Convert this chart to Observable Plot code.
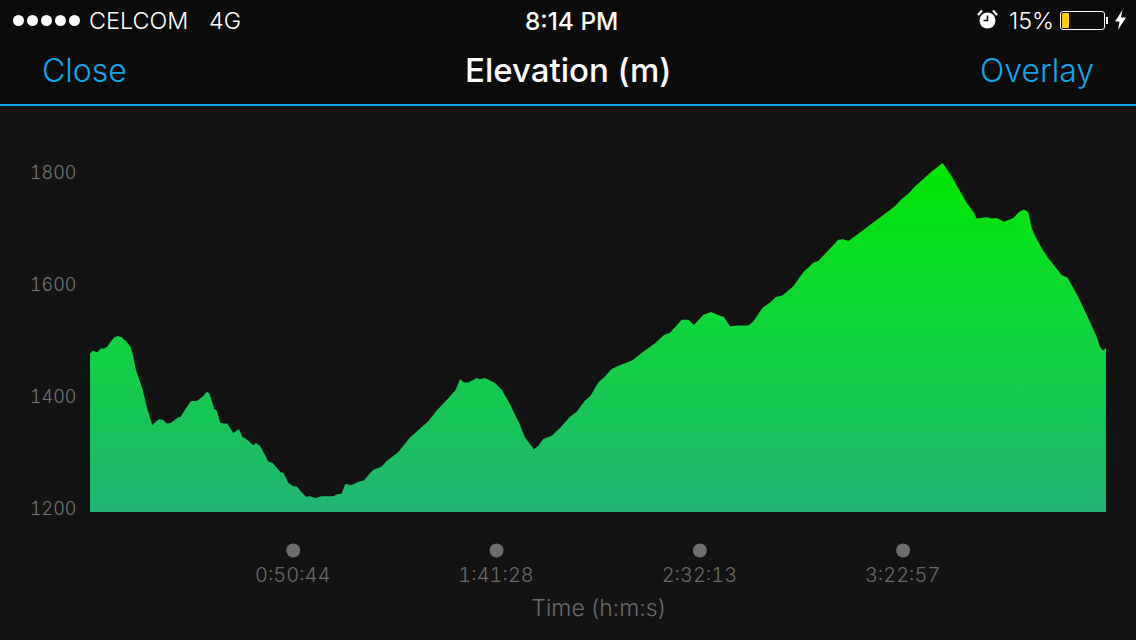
<!DOCTYPE html>
<html>
<head>
<meta charset="utf-8">
<script src="https://cdn.jsdelivr.net/npm/d3@7"></script>
<script src="https://cdn.jsdelivr.net/npm/@observablehq/plot@0.6"></script>
<style>
html,body{margin:0;padding:0;background:#131313;width:1136px;height:640px;overflow:hidden;font-family:Inter,Roboto,sans-serif}
#head{position:relative;width:1136px;height:106px;background:#0c0c0c;border-bottom:0;box-sizing:border-box}
#head .rule{position:absolute;left:0;top:104px;width:1136px;height:2px;background:#12a5ea}
#head span,#head div.t{position:absolute;white-space:nowrap;line-height:1}
.sb{color:#fff;font-size:23.4px;font-weight:300;top:9px}
.nav{color:#12a5ea;font-size:32px;font-weight:300;top:55px}
.d{width:11px;height:11px;border-radius:50%;background:#fff;top:15px}
#chart svg{display:block}
</style>
</head>
<body>
<div id="head">
  <span class="d" style="left:13px"></span><span class="d" style="left:27px"></span><span class="d" style="left:41px"></span><span class="d" style="left:55px"></span><span class="d" style="left:69px"></span>
  <span class="sb" style="left:89px">CELCOM</span>
  <span class="sb" style="left:209px">4G</span>
  <span class="sb" style="left:525px;font-weight:500;font-size:24.4px">8:14 PM</span>
  <span class="sb" style="left:1009px">15%</span>
  <svg style="position:absolute;left:977px;top:9px" width="21" height="21" viewBox="0 0 21 21">
    <circle cx="10.5" cy="11.5" r="8" fill="#fff"/>
    <path d="M10.5 6.5V11.5H6.5" fill="none" stroke="#0c0c0c" stroke-width="1.6"/>
    <path d="M1 6 L5 1.5 M20 6 L16 1.5" stroke="#fff" stroke-width="2.4" fill="none"/>
  </svg>
  <span style="left:1060px;top:11px;width:43px;height:17px;border:1px solid #fff;border-radius:3px"></span>
  <span style="left:1062px;top:13px;width:7px;height:15px;background:#ffcc00;border-radius:1px"></span>
  <span style="left:1106px;top:17px;width:2px;height:7px;background:#fff"></span>
  <svg style="position:absolute;left:1115px;top:10px" width="11" height="20" viewBox="0 0 11 20">
    <path d="M7.5 0 L0 11.5 H4.5 L3 20 L11 7.5 H6 Z" fill="#fff"/>
  </svg>
  <span class="nav" style="left:42px">Close</span>
  <span class="nav" style="left:465px;top:54px;color:#fff;font-weight:500;font-size:33px">Elevation (m)</span>
  <span class="nav" style="left:980px">Overlay</span>
  <div class="rule"></div>
</div>
<div id="chart"></div>
<script>
const seconds = [0,40,109,160,210,259,310,364,415,475,539,609,639,689,783,849,933,1023,1089,1149,1208,1322,1358,1448,1512,1598,1688,1748,1786,1861,1897,1951,1996,2056,2146,2231,2281,2332,2445,2486,2546,2670,2730,2856,2895,2970,3044,3095,3155,3235,3295,3369,3470,3643,3694,3769,3823,3919,4018,4103,4193,4242,4368,4443,4617,4792,5066,5192,5391,5481,5541,5601,5665,5791,5840,5915,6065,6165,6275,6429,6514,6649,6713,6788,6914,7038,7188,7288,7413,7498,7612,7712,7812,7911,8112,8286,8461,8596,8686,8861,8959,9045,9184,9299,9394,9494,9584,9693,9858,9933,10068,10183,10273,10373,10532,10682,10832,10906,11206,11281,11356,11531,11730,12055,12155,12254,12354,12604,12769,12904,13128,13228,13278,13428,13503,13578,13687,13827,13917,13987,14051,14102,14151,14252,14351,14551,14641,14800,14925,15065,15125,15170,15215];
const elevation = [1476,1481,1478,1485,1485,1488,1497,1505,1507,1505,1498,1487,1476,1446,1414,1381,1348,1358,1358,1351,1352,1362,1363,1380,1391,1391,1399,1407,1405,1377,1374,1352,1351,1351,1334,1341,1327,1324,1312,1316,1311,1283,1281,1264,1263,1245,1239,1239,1230,1220,1221,1218,1221,1221,1224,1226,1243,1241,1247,1249,1262,1268,1274,1284,1300,1326,1355,1374,1399,1412,1430,1424,1424,1432,1430,1432,1423,1411,1389,1351,1326,1305,1311,1323,1329,1343,1363,1372,1392,1401,1424,1435,1448,1454,1463,1479,1494,1509,1513,1536,1536,1527,1545,1550,1545,1541,1524,1526,1526,1533,1557,1567,1577,1580,1596,1621,1638,1641,1679,1680,1677,1692,1710,1739,1752,1761,1774,1801,1816,1792,1745,1729,1717,1719,1717,1718,1711,1718,1729,1733,1728,1700,1686,1664,1646,1616,1611,1577,1545,1509,1488,1481,1486];
const baseElevation = 1193;
const timeTicks = [3044,6088,9133,12177];
const timeLabels = ["0:50:44","1:41:28","2:32:13","3:22:57"];
const elevationTicks = [1200,1400,1600,1800];
const gradientStops = [["0%","#00e800"],["45%","#0fd63a"],["100%","#20b573"]];

const rows = seconds.map((t,i)=>({t,e:elevation[i]}));

const gradient = () => {
  const defs = d3.create("svg:defs");
  const g = defs.append("linearGradient").attr("id","elev").attr("x1",0).attr("x2",0).attr("y1",0).attr("y2",1);
  gradientStops.forEach(([o,c])=>g.append("stop").attr("offset",o).attr("stop-color",c));
  return defs.node();
};

const chart = Plot.plot({
  width:1136,
  height:534,
  marginLeft:90,
  marginRight:30,
  marginTop:0,
  marginBottom:128,
  style:{background:"#131313",fontFamily:"Inter,Roboto,sans-serif"},
  x:{domain:[0,15215],range:[90,1106]},
  y:{domain:[1200,1800],range:[402,66]},
  marks:[
    gradient,
    Plot.areaY(rows,{x:"t",y1:baseElevation,y2:"e",fill:"url(#elev)"}),
    Plot.axisY(elevationTicks,{anchor:"left",tickSize:0,tickPadding:14,label:null,tickFormat:d=>String(d),dy:1,fill:"#757575",fontSize:18,fontWeight:300}),
    Plot.dot(timeTicks,{x:d=>d,frameAnchor:"bottom",dy:38,dx:-0.5,r:7,fill:"#6e6e6e"}),
    Plot.axisX(timeTicks,{anchor:"bottom",tickSize:0,tickPadding:55,tickFormat:d=>timeLabels[timeTicks.indexOf(d)],dx:-1,fill:"#6a6a6a",fontSize:20,fontWeight:300,label:null}),
    Plot.text(["Time (h:m:s)"],{frameAnchor:"bottom",dy:103,fill:"#6a6a6a",fontSize:23,fontWeight:300})
  ]
});
document.getElementById("chart").appendChild(chart);
</script>
</body>
</html>
